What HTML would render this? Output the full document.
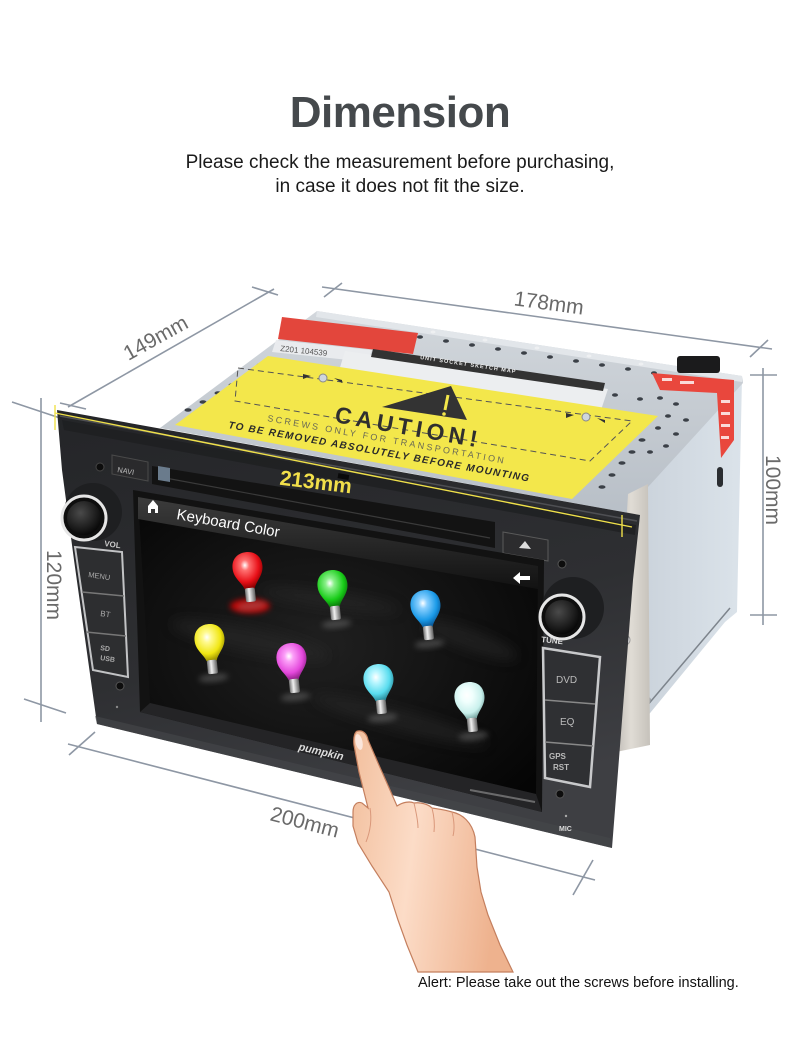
<!DOCTYPE html>
<html><head><meta charset="utf-8">
<style>
html,body{margin:0;padding:0;background:#fff;}
svg{display:block}
text{font-family:"Liberation Sans",Arial,sans-serif}
</style></head>
<body>
<svg width="800" height="1038" viewBox="0 0 800 1038" xmlns="http://www.w3.org/2000/svg">
<defs>
 <linearGradient id="bez" x1="0" y1="0" x2="0.3" y2="1">
  <stop offset="0" stop-color="#242528"/><stop offset="0.6" stop-color="#2e2f32"/><stop offset="1" stop-color="#3e3f43"/>
 </linearGradient>
 <linearGradient id="topf" x1="0" y1="0" x2="0" y2="1"><stop offset="0" stop-color="#d2d7dc"/><stop offset="1" stop-color="#b8bfc7"/></linearGradient>
 <linearGradient id="side" x1="0" y1="0" x2="1" y2="0"><stop offset="0" stop-color="#c6ced7"/><stop offset="1" stop-color="#dbe3ea"/></linearGradient>
 <linearGradient id="brk" x1="0" y1="0" x2="1" y2="0"><stop offset="0" stop-color="#b9b5ae"/><stop offset=".5" stop-color="#e0dcd5"/><stop offset="1" stop-color="#c6c2bb"/></linearGradient>
 <radialGradient id="scr" cx=".45" cy=".5" r=".7"><stop offset="0" stop-color="#202020"/><stop offset="1" stop-color="#050505"/></radialGradient>
 <linearGradient id="hdr" x1="0" y1="0" x2="0" y2="1"><stop offset="0" stop-color="#3c3c3c"/><stop offset="1" stop-color="#121212"/></linearGradient>
 <radialGradient id="knob" cx=".4" cy=".35" r=".7"><stop offset="0" stop-color="#4a4a4a"/><stop offset="1" stop-color="#050505"/></radialGradient>
 <linearGradient id="metal" x1="0" y1="0" x2="1" y2="0"><stop offset="0" stop-color="#6f6f6f"/><stop offset=".4" stop-color="#f0f0f0"/><stop offset="1" stop-color="#5f5f5f"/></linearGradient>
 <radialGradient id="gR" cx=".42" cy=".35" r=".65"><stop offset="0" stop-color="#fff"/><stop offset=".22" stop-color="#ff7070"/><stop offset=".7" stop-color="#e81018"/><stop offset="1" stop-color="#8a0000"/></radialGradient>
 <radialGradient id="gG" cx=".42" cy=".35" r=".65"><stop offset="0" stop-color="#fff"/><stop offset=".22" stop-color="#8af08a"/><stop offset=".7" stop-color="#18cc18"/><stop offset="1" stop-color="#0a7a0a"/></radialGradient>
 <radialGradient id="gB" cx=".42" cy=".35" r=".65"><stop offset="0" stop-color="#fff"/><stop offset=".22" stop-color="#8ad0ff"/><stop offset=".7" stop-color="#1a9ae8"/><stop offset="1" stop-color="#0a5a9a"/></radialGradient>
 <radialGradient id="gY" cx=".42" cy=".35" r=".65"><stop offset="0" stop-color="#fff"/><stop offset=".22" stop-color="#fffa90"/><stop offset=".7" stop-color="#f0e612"/><stop offset="1" stop-color="#9a9000"/></radialGradient>
 <radialGradient id="gP" cx=".42" cy=".35" r=".65"><stop offset="0" stop-color="#fff"/><stop offset=".22" stop-color="#fca0f8"/><stop offset=".7" stop-color="#e448dc"/><stop offset="1" stop-color="#902088"/></radialGradient>
 <radialGradient id="gC" cx=".42" cy=".35" r=".65"><stop offset="0" stop-color="#fff"/><stop offset=".25" stop-color="#b8f6ff"/><stop offset=".7" stop-color="#58dcee"/><stop offset="1" stop-color="#2a8a9a"/></radialGradient>
 <radialGradient id="gW" cx=".42" cy=".35" r=".65"><stop offset="0" stop-color="#fff"/><stop offset=".3" stop-color="#f0fffd"/><stop offset=".75" stop-color="#c8f0ec"/><stop offset="1" stop-color="#7aa8a4"/></radialGradient>
 <path id="bulb" d="M-5,17 C-7,10 -15,5 -15,-5 C-15,-15 -8,-20 0,-20 C8,-20 15,-15 15,-5 C15,5 7,10 5,17 Z"/>
 <filter id="blur" x="-50%" y="-50%" width="200%" height="200%"><feGaussianBlur stdDeviation="3"/></filter>
 <filter id="blur6" x="-50%" y="-50%" width="200%" height="200%"><feGaussianBlur stdDeviation="6"/></filter>
 <linearGradient id="skin" x1="0" y1="0" x2="1" y2="0.2">
  <stop offset="0" stop-color="#f2bf9d"/><stop offset=".45" stop-color="#fcdcc7"/><stop offset="1" stop-color="#eeb28e"/>
 </linearGradient>
</defs>

<!-- Title -->
<text x="400" y="127" text-anchor="middle" font-size="44" font-weight="bold" fill="#45494c" letter-spacing="-0.5">Dimension</text>
<text x="400" y="168" text-anchor="middle" font-size="19" fill="#1a1a1a">Please check the measurement before purchasing,</text>
<text x="400" y="192" text-anchor="middle" font-size="19" fill="#1a1a1a">in case it does not fit the size.</text>

<!-- Dimension lines -->
<g stroke="#8e97a4" stroke-width="1.6" fill="none">
 <line x1="68" y1="407" x2="274" y2="289"/>
 <line x1="60" y1="403" x2="86" y2="409"/>
 <line x1="252" y1="287" x2="278" y2="295"/>
 <line x1="322" y1="287" x2="772" y2="349"/>
 <line x1="324" y1="297" x2="342" y2="283"/>
 <line x1="750" y1="357" x2="768" y2="340"/>
 <line x1="763" y1="368" x2="763" y2="625"/>
 <line x1="750" y1="375" x2="777" y2="375"/>
 <line x1="750" y1="615" x2="777" y2="615"/>
 <line x1="41" y1="398" x2="41" y2="722"/>
 <line x1="12" y1="402" x2="60" y2="418"/>
 <line x1="24" y1="699" x2="66" y2="713"/>
 <line x1="68" y1="744" x2="595" y2="880"/>
 <line x1="69" y1="755" x2="95" y2="732"/>
 <line x1="573" y1="895" x2="593" y2="860"/>
</g>
<g font-size="21" fill="#6a6a6a" text-anchor="middle">
 <text transform="translate(159,344) rotate(-29)">149mm</text>
 <text transform="translate(548,310) rotate(7.7)">178mm</text>
 <text transform="translate(766,490) rotate(90)">100mm</text>
 <text transform="translate(47,585) rotate(90)">120mm</text>
 <text transform="translate(303,829) rotate(14.6)">200mm</text>
</g>

<!-- Side face of metal box -->
<polygon points="742,378 737,612 725,622 618,752 612,752 640,490" fill="url(#side)"/>
<line x1="618" y1="740" x2="730" y2="608" stroke="#7d848c" stroke-width="1.5"/>
<rect x="717" y="467" width="6" height="20" rx="3" fill="#2a2d31"/>
<circle cx="648" cy="700" r="3" fill="#9aa0a6"/>
<!-- Top face -->
<polygon points="317,311 742,376 743,383 648,487 640,515 160,428" fill="url(#topf)"/>
<polygon points="317,311 742,376 742,382 316,317" fill="#e2e6ea"/>
<!-- bracket -->
<polygon points="628,494 648,484 650,745 616,752 612,750 622,600" fill="url(#brk)"/>
<circle cx="625" cy="640" r="5" fill="#e9e9e9" stroke="#999"/>

<!-- holes -->
<g fill="#3b4047">
 <ellipse cx="420" cy="337" rx="3" ry="1.8"/><ellipse cx="446" cy="341" rx="3" ry="1.8"/><ellipse cx="472" cy="345" rx="3" ry="1.8"/>
 <ellipse cx="498" cy="349" rx="3" ry="1.8"/><ellipse cx="524" cy="353" rx="3" ry="1.8"/><ellipse cx="550" cy="357" rx="3" ry="1.8"/>
 <ellipse cx="576" cy="361" rx="3" ry="1.8"/><ellipse cx="602" cy="365" rx="3" ry="1.8"/><ellipse cx="628" cy="369" rx="3" ry="1.8"/>
 <ellipse cx="654" cy="373" rx="3" ry="1.8"/>
 <ellipse cx="615" cy="395" rx="3" ry="1.8"/><ellipse cx="640" cy="399" rx="3" ry="1.8"/>
 <ellipse cx="260" cy="365" rx="3.5" ry="1.8"/><ellipse cx="247" cy="375" rx="3.5" ry="1.8"/><ellipse cx="232" cy="385" rx="3.5" ry="1.8"/>
 <ellipse cx="218" cy="393" rx="3.5" ry="1.8"/><ellipse cx="203" cy="402" rx="3.5" ry="1.8"/><ellipse cx="188" cy="410" rx="3.5" ry="1.8"/>
 <ellipse cx="642" cy="440" rx="3.5" ry="1.8"/><ellipse cx="632" cy="452" rx="3.5" ry="1.8"/><ellipse cx="622" cy="463" rx="3.5" ry="1.8"/>
 <ellipse cx="612" cy="475" rx="3.5" ry="1.8"/><ellipse cx="602" cy="487" rx="3.5" ry="1.8"/>
 <ellipse cx="660" cy="398" rx="3" ry="1.8"/><ellipse cx="676" cy="404" rx="3" ry="1.8"/><ellipse cx="668" cy="416" rx="3" ry="1.8"/>
 <ellipse cx="686" cy="420" rx="3" ry="1.8"/><ellipse cx="658" cy="428" rx="3" ry="1.8"/><ellipse cx="676" cy="434" rx="3" ry="1.8"/>
 <ellipse cx="650" cy="452" rx="3" ry="1.8"/><ellipse cx="666" cy="446" rx="3" ry="1.8"/>
</g>
<g fill="#eef0f2">
 <ellipse cx="433" cy="332" rx="2.5" ry="1.5"/><ellipse cx="485" cy="340" rx="2.5" ry="1.5"/><ellipse cx="537" cy="348" rx="2.5" ry="1.5"/>
 <ellipse cx="589" cy="356" rx="2.5" ry="1.5"/><ellipse cx="641" cy="364" rx="2.5" ry="1.5"/><ellipse cx="690" cy="372" rx="2.5" ry="1.5"/>
</g>

<!-- connector -->
<rect x="677" y="356" width="43" height="17" rx="3" fill="#1b1b1c"/>
<!-- red sticker right -->
<polygon points="652,373 734,380 734,440 721,458 717,393 660,390" fill="#e9473d"/>
<g fill="#fff" opacity=".8">
 <rect x="662" y="378" width="10" height="3"/><rect x="680" y="381" width="14" height="3"/><rect x="721" y="400" width="9" height="3"/>
 <rect x="721" y="412" width="9" height="3"/><rect x="721" y="424" width="9" height="3"/><rect x="721" y="436" width="8" height="3"/>
</g>

<!-- top-left red warning + labels -->
<polygon points="282,317 418,333 413,354 278,339" fill="#e3463c"/>
<polygon points="276,340 372,350 368,362 272,352" fill="#e9ebee"/>
<text transform="translate(280,351) rotate(6)" font-size="8" fill="#555">Z201 104539</text>
<polygon points="345,351 608,389 600,413 338,374" fill="#eceef0"/>
<polygon points="373,349 605,383 603,391 371,357" fill="#333"/>
<text transform="translate(420,359) rotate(8.5)" font-size="5.5" font-weight="bold" fill="#eee" letter-spacing="1">UNIT SOCKET SKETCH MAP</text>

<!-- yellow label -->
<polygon points="268,356 658,416 572,499 175,425" fill="#f3e74b"/>
<polygon points="238,368 632,421 590,461 235,401" fill="none" stroke="#555" stroke-width="1" stroke-dasharray="6 4"/>
<circle cx="323" cy="378" r="4" fill="#cfd6de" stroke="#888"/>
<circle cx="586" cy="417" r="4" fill="#cfd6de" stroke="#888"/>
<polygon points="303,374 311,376 303,379" fill="#333"/><polygon points="342,380 334,378 342,383" fill="#333"/>
<polygon points="566,413 574,415 566,418" fill="#333"/><polygon points="605,420 597,418 605,423" fill="#333"/>
<polygon points="451,386 382,407 467,420" fill="#333"/>
<path d="M448,395 L445,410" stroke="#f3e74b" stroke-width="3"/>
<circle cx="444" cy="414" r="1.8" fill="#f3e74b"/>
<text transform="translate(334,422) rotate(10)" font-size="23" font-weight="bold" fill="#2f2f2f" letter-spacing="4.5">CAUTION!</text>
<text transform="translate(267,421) rotate(10.2)" font-size="9" fill="#6a6a55" textLength="240" lengthAdjust="spacing">SCREWS ONLY FOR TRANSPORTATION</text>
<text transform="translate(228,428) rotate(10.1)" font-size="10" font-weight="bold" font-style="italic" fill="#2a2a2a" textLength="305" lengthAdjust="spacing">TO BE REMOVED ABSOLUTELY BEFORE MOUNTING</text>

<!-- Bezel -->
<polygon points="57,410 640,515 633,580 612,848 97,724 74,560 62,470" fill="url(#bez)"/>
<line x1="60" y1="416" x2="637" y2="521" stroke="#4e4f53" stroke-width="1.5"/>
<polygon points="62,420 636,525 635,535 64,430" fill="#1d1e20" opacity=".7"/>
<polygon points="612,848 97,724 95,716 610,838" fill="#46474b" opacity=".6"/>

<!-- slot -->
<polygon points="152,466 495,522 495,548 152,484" fill="#131313"/>
<line x1="160" y1="477" x2="490" y2="538" stroke="#3a3a3a" stroke-width="1.2"/>
<polygon points="158,466 170,468 170,482 158,480" fill="#6a7b8c"/>
<!-- eject -->
<polygon points="503,532 548,540 548,561 503,553" fill="#2c2c2e" stroke="#5a5a5a"/>
<polygon points="525,541 531,549 519,548" fill="#ddd"/>
<!-- NAVI -->
<polygon points="112,455 148,462 148,481 112,474" fill="#2a2a2c" stroke="#4a4a4a"/>
<text transform="translate(117,472) rotate(10)" font-size="7.5" fill="#bbb">NAVI</text>
<circle cx="100" cy="467" r="4" fill="#0d0d0d" stroke="#444"/>
<rect x="338" y="474" width="11" height="5" fill="#0a0a0a" transform="rotate(10 343 476)"/>

<!-- screen -->
<polygon points="133,490 544,560 542,812 140,712" fill="#121212"/>
<polygon points="138,497 538,566 536,794 150,703" fill="url(#scr)"/>
<g fill="#2c2c2c" opacity=".55" filter="url(#blur6)">
 <ellipse cx="250" cy="640" rx="80" ry="12" transform="rotate(12 250 640)"/>
 <ellipse cx="400" cy="720" rx="90" ry="10" transform="rotate(15 400 720)"/>
 <ellipse cx="330" cy="600" rx="70" ry="8" transform="rotate(8 330 600)"/>
 <ellipse cx="470" cy="640" rx="50" ry="10" transform="rotate(20 470 640)"/>
</g>
<polygon points="138,497 538,566 538,589 138,519" fill="url(#hdr)"/>
<path d="M148,506 L153,500 L158,506 L158,513 L155,513 L155,509 L151,509 L151,513 L148,513 Z" fill="#fff"/>
<text transform="translate(176,519) rotate(10)" font-size="15" fill="#fff">Keyboard Color</text>
<path d="M513,578 L520,572 L520,576 L530,576 L530,580 L520,580 L520,584 Z" fill="#fff"/>

<!-- bulbs -->
<ellipse cx="250" cy="606" rx="20" ry="7" fill="#e00" opacity=".8" filter="url(#blur)"/>
<g transform="translate(248,572) rotate(-6)">
 <ellipse cx="0" cy="34" rx="15" ry="4" fill="#888" opacity=".4" filter="url(#blur)"/>
 <use href="#bulb" fill="url(#gR)"/><rect x="-5" y="16" width="10" height="14" rx="2" fill="url(#metal)"/>
</g>
<g transform="translate(333,590) rotate(-6)">
 <ellipse cx="0" cy="34" rx="15" ry="4" fill="#888" opacity=".4" filter="url(#blur)"/>
 <use href="#bulb" fill="url(#gG)"/><rect x="-5" y="16" width="10" height="14" rx="2" fill="url(#metal)"/>
</g>
<g transform="translate(426,610) rotate(-6)">
 <ellipse cx="0" cy="34" rx="15" ry="4" fill="#888" opacity=".4" filter="url(#blur)"/>
 <use href="#bulb" fill="url(#gB)"/><rect x="-5" y="16" width="10" height="14" rx="2" fill="url(#metal)"/>
</g>
<g transform="translate(210,644) rotate(-6)">
 <ellipse cx="0" cy="34" rx="15" ry="4" fill="#888" opacity=".4" filter="url(#blur)"/>
 <use href="#bulb" fill="url(#gY)"/><rect x="-5" y="16" width="10" height="14" rx="2" fill="url(#metal)"/>
</g>
<g transform="translate(292,663) rotate(-6)">
 <ellipse cx="0" cy="34" rx="15" ry="4" fill="#888" opacity=".4" filter="url(#blur)"/>
 <use href="#bulb" fill="url(#gP)"/><rect x="-5" y="16" width="10" height="14" rx="2" fill="url(#metal)"/>
</g>
<g transform="translate(379,684) rotate(-6)">
 <ellipse cx="0" cy="34" rx="15" ry="4" fill="#888" opacity=".4" filter="url(#blur)"/>
 <use href="#bulb" fill="url(#gC)"/><rect x="-5" y="16" width="10" height="14" rx="2" fill="url(#metal)"/>
</g>
<g transform="translate(470,702) rotate(-6)">
 <ellipse cx="0" cy="34" rx="15" ry="4" fill="#888" opacity=".4" filter="url(#blur)"/>
 <use href="#bulb" fill="url(#gW)"/><rect x="-5" y="16" width="10" height="14" rx="2" fill="url(#metal)"/>
</g>

<!-- chin -->
<polygon points="150,703 536,794 542,812 140,712" fill="#242426"/>
<path d="M470,790 L535,802" stroke="#9a9a9a" stroke-width="2" opacity=".6"/>
<text transform="translate(298,750) rotate(13)" font-size="11" font-weight="bold" font-style="italic" fill="#dcdcdc">pumpkin</text>

<!-- left buttons -->
<text transform="translate(104,546) rotate(8)" font-size="8" font-weight="bold" fill="#ccc">VOL</text>
<polygon points="75,547 122,552 128,677 93,670" fill="#2d2e30" stroke="#c2c3c5" stroke-width="2"/>
<line x1="82" y1="592" x2="124" y2="596" stroke="#777" stroke-width="1.5"/>
<line x1="86" y1="632" x2="126" y2="636" stroke="#777" stroke-width="1.5"/>
<text transform="translate(88,577) rotate(8)" font-size="7.5" fill="#aaa">MENU</text>
<text transform="translate(100,616) rotate(8)" font-size="8" fill="#aaa">BT</text>
<text transform="translate(100,650) rotate(8)" font-size="7" font-weight="bold" fill="#aaa">SD</text>
<text transform="translate(100,660) rotate(8)" font-size="7" font-weight="bold" fill="#aaa">USB</text>
<circle cx="120" cy="686" r="4" fill="#0d0d0d" stroke="#555"/>
<circle cx="117" cy="707" r="1.2" fill="#888"/>

<!-- right buttons -->
<text transform="translate(541,642) rotate(6)" font-size="8" font-weight="bold" fill="#ddd">TUNE</text>
<polygon points="543,648 600,657 590,787 545,778" fill="#2f3033" stroke="#c8c9cb" stroke-width="2.5"/>
<line x1="545" y1="700" x2="595" y2="704" stroke="#888" stroke-width="1.5"/>
<line x1="545" y1="742" x2="593" y2="746" stroke="#888" stroke-width="1.5"/>
<text x="556" y="683" font-size="10" fill="#bbb">DVD</text>
<text x="560" y="725" font-size="10" fill="#bbb">EQ</text>
<text x="549" y="759" font-size="8" font-weight="bold" fill="#bbb">GPS</text>
<text x="553" y="770" font-size="8" font-weight="bold" fill="#bbb">RST</text>
<circle cx="562" cy="564" r="4" fill="#0d0d0d" stroke="#555"/>
<circle cx="560" cy="794" r="4" fill="#0d0d0d" stroke="#555"/>
<circle cx="566" cy="816" r="1.2" fill="#aaa"/>
<text x="559" y="831" font-size="7" font-weight="bold" fill="#ddd">MIC</text>

<!-- knobs -->
<circle cx="93" cy="512" r="29" fill="#1e1f21"/>
<circle cx="84" cy="518" r="22" fill="#0e0e0e" stroke="#e6e6e6" stroke-width="3"/>
<circle cx="84" cy="518" r="17" fill="url(#knob)"/>
<circle cx="573" cy="608" r="31" fill="#1e1f21"/>
<circle cx="562" cy="617" r="22" fill="#0e0e0e" stroke="#e6e6e6" stroke-width="3"/>
<circle cx="562" cy="617" r="17" fill="url(#knob)"/>

<!-- 213mm yellow -->
<line x1="55" y1="413" x2="632" y2="527" stroke="#efe04a" stroke-width="1.4"/>
<line x1="55" y1="405" x2="55" y2="430" stroke="#efe04a" stroke-width="1.4"/>
<line x1="622" y1="515" x2="622" y2="537" stroke="#efe04a" stroke-width="1.4"/>
<text transform="translate(315,489) rotate(7)" text-anchor="middle" font-size="21" font-weight="bold" fill="#f1df4a">213mm</text>

<!-- hand -->
<path d="M358,731 C363,730 367,734 368,740 L378,763 L390,790 L397,806 C403,802 410,801 414,803 C420,802 428,804 432,808 C438,809 446,810 452,812 C462,814 472,822 475,837 L477,867 L481,892 L488,915 L500,945 L513,972 L418,972 L407,945 L398,920 L389,892 L372,866 L358,843 L353,826 L353,812 C353,805 357,801 362,803 L368,808 L366,800 L359,772 L354,745 C353,737 355,731 358,731 Z" fill="url(#skin)" stroke="#c47f5e" stroke-width="1.2"/>
<ellipse cx="359" cy="742" rx="3.5" ry="8" fill="#fbe6dc" transform="rotate(-12 359 742)"/>
<path d="M414,803 C416,812 418,820 418,828 M432,808 C434,816 435,824 434,832 M452,812 C454,820 455,828 453,836" stroke="#d9977a" stroke-width="1" fill="none"/>
<path d="M370,808 C372,820 370,832 366,842" stroke="#d9977a" stroke-width="1" fill="none"/>

<!-- alert -->
<text x="418" y="987" font-size="14.5" fill="#111">Alert: Please take out the screws before installing.</text>
</svg>
</body></html>
